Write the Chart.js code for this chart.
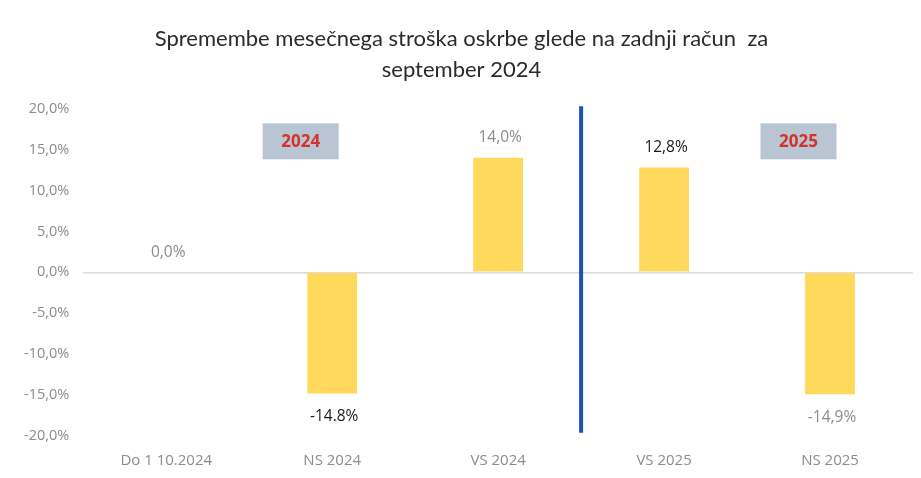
<!DOCTYPE html>
<html lang="sl">
<head>
    <meta charset="utf-8">
    <title>Spremembe mesečnega stroška oskrbe</title>
    <script src="https://cdn.jsdelivr.net/npm/chart.js"></script>
    <style>
        body { margin: 0; background: #fff; }
        #wrap { width: 921px; height: 478px; }
    </style>
</head>
<body>
<div id="wrap"><canvas id="chart" width="921" height="478"></canvas></div>
<script>
    const categories = ['Do 1 10.2024', 'NS 2024', 'VS 2024', 'VS 2025', 'NS 2025'];
    const changes = [0.0, -14.8, 14.0, 12.8, -14.9];
    const valueLabels = ['0,0%', '-14.8%', '14,0%', '12,8%', '-14,9%'];
    const yTicks = [-20, -15, -10, -5, 0, 5, 10, 15, 20];
    const yearTags = ['2024', '2025'];

    const labelColors = ['#8c8c8c', '#1a1a1a', '#8c8c8c', '#1a1a1a', '#8c8c8c'];

    // value labels above / below each bar
    const barLabels = {
        id: 'barLabels',
        afterDatasetsDraw(chart) {
            const ctx = chart.ctx;
            const meta = chart.getDatasetMeta(0);
            const y = chart.scales.y;
            ctx.save();
            ctx.font = '15.5px "Open Sans", sans-serif';
            ctx.textAlign = 'center';
            ctx.textBaseline = 'middle';
            meta.data.forEach((bar, i) => {
                const v = changes[i];
                const py = v >= 0 ? y.getPixelForValue(v) - 20 : y.getPixelForValue(v) + 23;
                ctx.fillStyle = labelColors[i];
                ctx.fillText(valueLabels[i], bar.x + 2, py);
            });
            ctx.restore();
        }
    };

    // divider between 2024 and 2025 plus the year boxes
    const yearMarks = {
        id: 'yearMarks',
        afterDatasetsDraw(chart) {
            const ctx = chart.ctx;
            const x = chart.scales.x, y = chart.scales.y;
            const step = x.getPixelForValue(1) - x.getPixelForValue(0);
            const midX = (x.getPixelForValue(2) + x.getPixelForValue(3)) / 2;
            ctx.save();
            ctx.strokeStyle = '#1f4fb0';
            ctx.lineWidth = 4;
            ctx.beginPath();
            ctx.moveTo(midX, y.getPixelForValue(20.3));
            ctx.lineTo(midX, y.getPixelForValue(-19.6));
            ctx.stroke();

            [0.81, 3.81].forEach((pos, i) => {
                const cx = x.getPixelForValue(0) + pos * step;
                const cy = y.getPixelForValue(16);
                const w = 76, h = 36;
                ctx.fillStyle = '#b9c5d3';
                ctx.fillRect(cx - w / 2, cy - h / 2, w, h);
                ctx.fillStyle = '#d2332a';
                ctx.font = 'bold 17px "Open Sans", sans-serif';
                ctx.textAlign = 'center';
                ctx.textBaseline = 'middle';
                ctx.fillText(yearTags[i], cx, cy + 1);
            });
            ctx.restore();
        }
    };

    new Chart(document.getElementById('chart'), {
        type: 'bar',
        data: {
            labels: categories,
            datasets: [{
                data: changes,
                backgroundColor: '#ffd95c',
                barPercentage: 0.6,
                categoryPercentage: 0.5
            }]
        },
        options: {
            responsive: false,
            animation: false,
            layout: { padding: { left: 10, right: 8, top: 0, bottom: 0 } },
            plugins: {
                legend: { display: false },
                tooltip: { enabled: false },
                title: {
                    display: true,
                    text: ['Spremembe mesečnega stroška oskrbe glede na zadnji račun  za', 'september 2024'],
                    color: '#2b2b2b',
                    font: { family: 'Lato, sans-serif', size: 22, weight: 'normal', lineHeight: 1.4 },
                    padding: { top: 24, bottom: 23 }
                }
            },
            scales: {
                x: {
                    grid: { display: false },
                    border: { display: false },
                    ticks: { color: '#8c8c8c', font: { family: '"Open Sans", sans-serif', size: 15 }, padding: 8 }
                },
                y: {
                    min: -20,
                    max: 20,
                    afterBuildTicks(axis) { axis.ticks = yTicks.map(v => ({ value: v })); },
                    grid: {
                        color: ctx => ctx.tick && ctx.tick.value === 0 ? '#dcdcdc' : 'rgba(0,0,0,0)',
                        lineWidth: 1.5,
                        drawTicks: false
                    },
                    border: { display: false },
                    ticks: {
                        color: '#8c8c8c',
                        font: { family: '"Open Sans", sans-serif', size: 14.5 },
                        padding: 14,
                        callback: v => v.toFixed(1).replace('.', ',') + '%'
                    }
                }
            }
        },
        plugins: [barLabels, yearMarks]
    });
</script>
</body>
</html>
